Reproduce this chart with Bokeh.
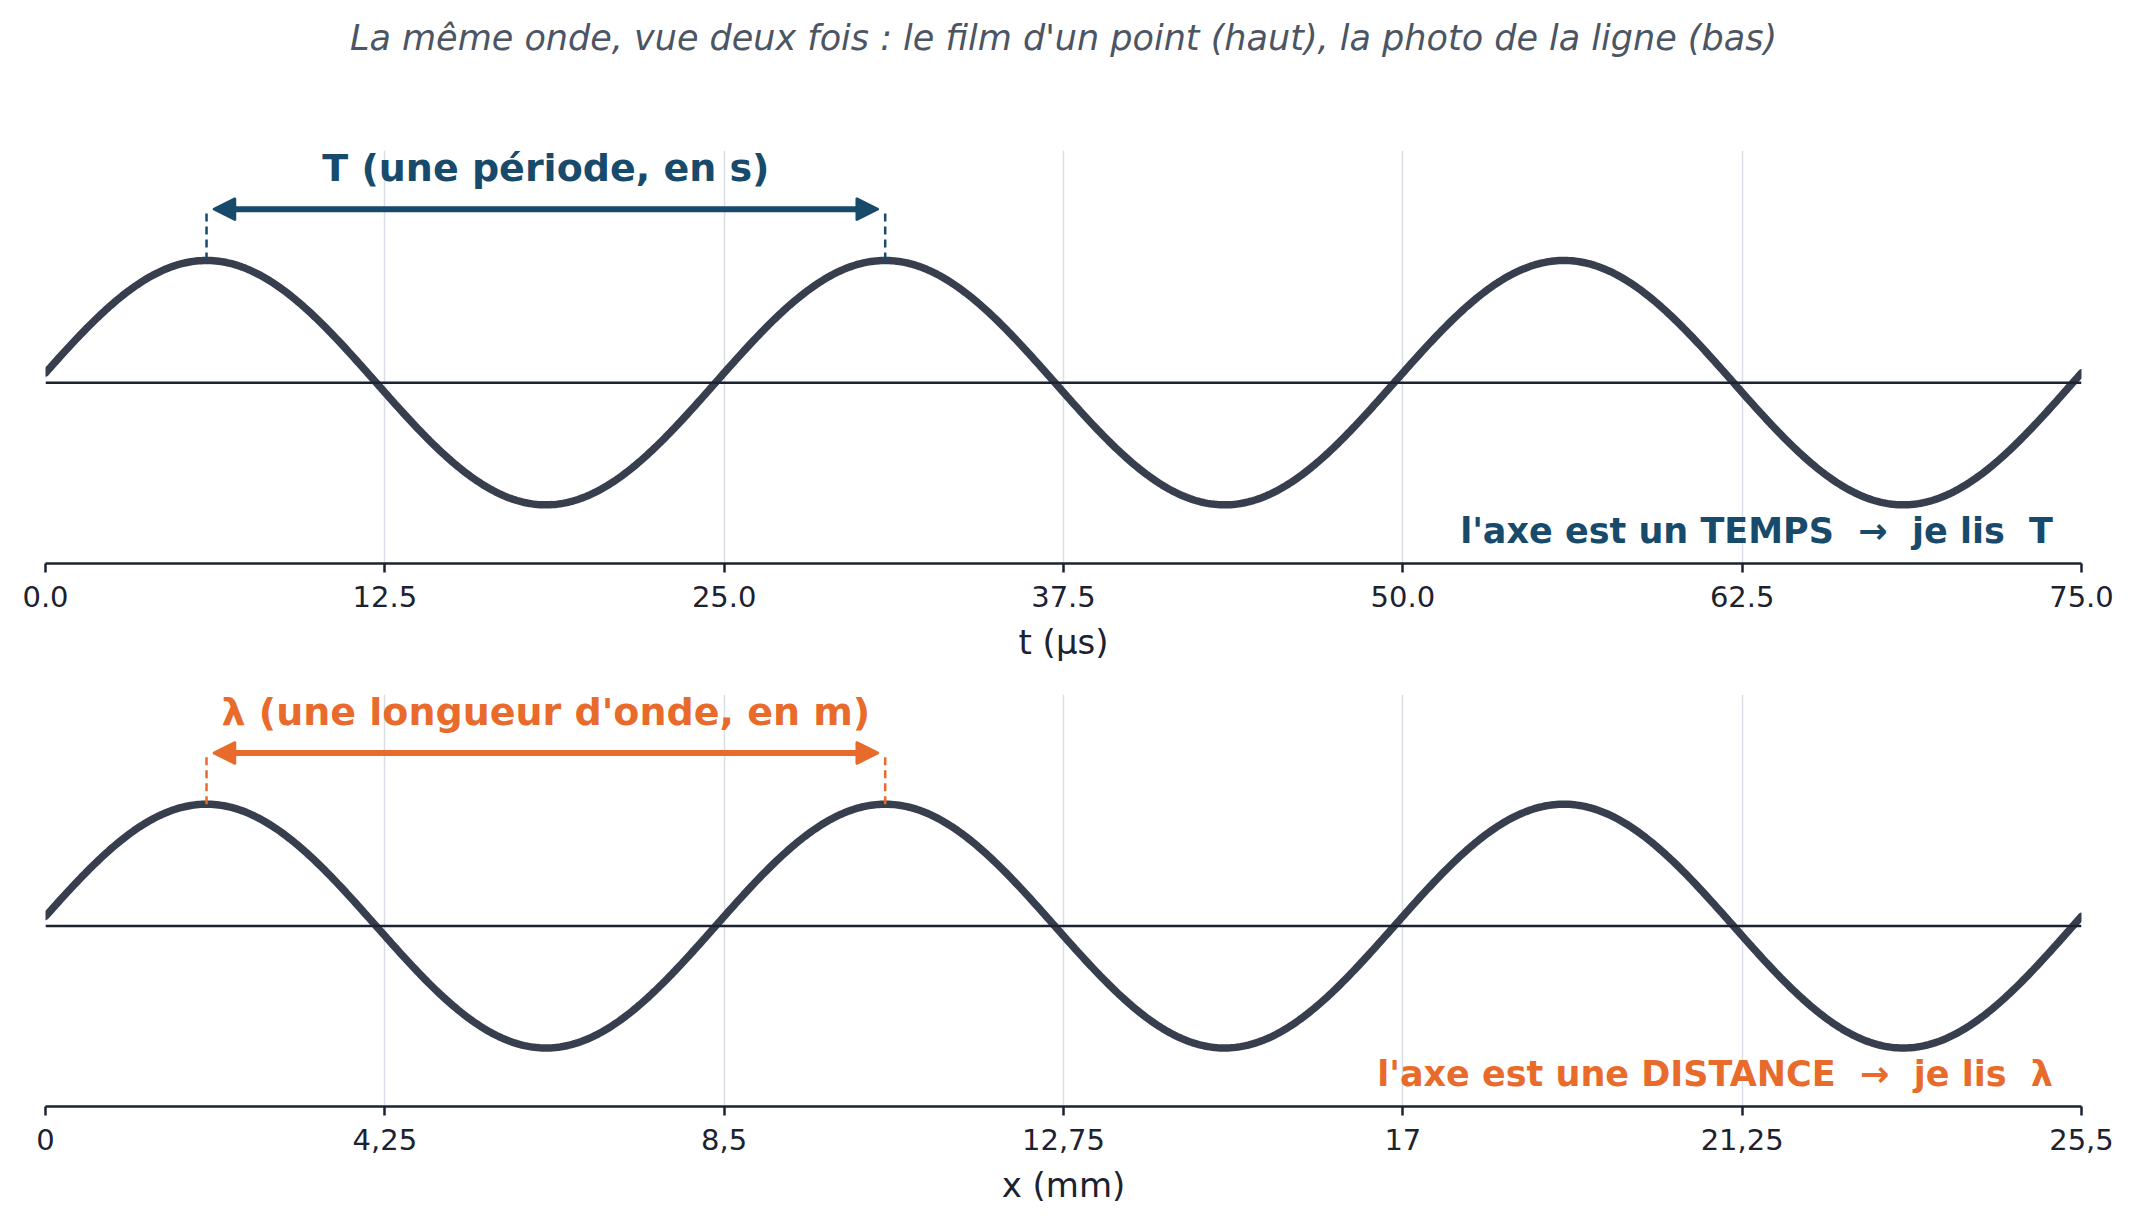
import numpy as np
from bokeh.plotting import figure
from bokeh.layouts import column
from bokeh.models import FixedTicker, Arrow, NormalHead, Range1d, Span
from bokeh.core.properties import value
from bokeh.embed import file_html
from bokeh.resources import INLINE

# --- données ---
titre = "La même onde, vue deux fois : le film d'un point (haut), la photo de la ligne (bas)"

periode_us = 25.0        # T
longueur_mm = 8.5        # lambda
amplitude = 1.0
phase = 0.08             # rad, la courbe part un peu au-dessus de 0

t_max = 75.0
x_max = 25.5
t_ticks = [0, 12.5, 25, 37.5, 50, 62.5, 75]
t_labels = ["0.0", "12.5", "25.0", "37.5", "50.0", "62.5", "75.0"]
x_ticks = [0, 4.25, 8.5, 12.75, 17, 21.25, 25.5]
x_labels = ["0", "4,25", "8,5", "12,75", "17", "21,25", "25,5"]

BLEU = "#184a6b"
ORANGE = "#e86b2c"
ONDE = "#373f4f"
FONT = "DejaVu Sans"
NB = "\u00a0"  # espace insécable (le SVG fusionne les doubles espaces)
W = 2115


def panneau(xmax, periode, ticks, labels, xlabel, couleur, txt_haut, txt_bas,
            height, top, bottom):
    p = figure(width=W, height=height, output_backend="svg", toolbar_location=None,
               x_range=Range1d(0, xmax), y_range=Range1d(-1.48, 1.9),
               min_border_left=45, min_border_right=34,
               min_border_top=top, min_border_bottom=bottom)
    p.outline_line_color = None
    p.yaxis.visible = False
    p.ygrid.visible = False
    tk = FixedTicker(ticks=ticks)
    p.xaxis.ticker = tk
    p.xgrid.ticker = tk
    p.xgrid.grid_line_color = "#d9dde6"
    p.xgrid.grid_line_width = 1.5
    p.xaxis.major_label_overrides = {t: l for t, l in zip(ticks, labels)}
    p.xaxis.axis_label = xlabel
    p.xaxis.axis_line_width = 2.5
    p.xaxis.axis_line_color = "#1c2230"
    p.xaxis.major_tick_line_width = 2.5
    p.xaxis.major_tick_line_color = "#1c2230"
    p.xaxis.major_tick_out = 9
    p.xaxis.major_tick_in = 0
    p.xaxis.minor_tick_line_color = None
    p.xaxis.major_label_standoff = 13
    p.xaxis.major_label_text_font = FONT
    p.xaxis.major_label_text_font_size = "29px"
    p.xaxis.major_label_text_color = "#1c2230"
    p.xaxis.axis_label_text_font = FONT
    p.xaxis.axis_label_text_font_size = "34px"
    p.xaxis.axis_label_text_font_style = "normal"
    p.xaxis.axis_label_text_color = "#1c2230"
    p.xaxis.axis_label_standoff = 12

    # axe du zéro
    p.add_layout(Span(location=0, dimension="width", line_color="#1c2230", line_width=2.5))

    # l'onde
    xs = np.linspace(0, xmax, 800)
    ys = amplitude * np.sin(2 * np.pi * xs / periode + phase)
    p.line(xs, ys, line_color=ONDE, line_width=7.5, line_cap="round")

    # une période / une longueur d'onde entre deux crêtes
    c1 = (np.pi / 2 - phase) / (2 * np.pi) * periode
    c2 = c1 + periode
    y_fl = 1.42
    p.segment(x0=[c1, c2], y0=[amplitude, amplitude], x1=[c1, c2], y1=[y_fl, y_fl],
              line_color=couleur, line_width=2.5, line_dash="8 5")
    dx = xmax * 0.0033
    tete = dict(size=22, fill_color=couleur, line_color=couleur, line_width=2)
    p.add_layout(Arrow(start=NormalHead(**tete), end=NormalHead(**tete),
                       x_start=c1 + dx, y_start=y_fl, x_end=c2 - dx, y_end=y_fl,
                       line_color=couleur, line_width=6))
    p.text(x=[(c1 + c2) / 2], y=[1.76], text=[txt_haut], text_font=value(FONT),
           text_font_style="bold", text_font_size="38px", text_color=couleur,
           text_align="center", text_baseline="middle")
    p.text(x=[xmax * 0.986], y=[-1.21], text=[txt_bas], text_font=value(FONT),
           text_font_style="bold", text_font_size="35px", text_color=couleur,
           text_align="right", text_baseline="middle")
    return p


# bandeau de titre (figure vide, seul le titre est dessiné)
p0 = figure(width=W, height=69, output_backend="svg", toolbar_location=None,
            title=titre, min_border_left=45, min_border_right=34,
            min_border_top=59, min_border_bottom=0)
p0.axis.visible = False
p0.grid.visible = False
p0.outline_line_color = None
p0.title.align = "center"
p0.title.standoff = 4
p0.title.text_font = FONT
p0.title.text_font_size = "35px"
p0.title.text_font_style = "italic"
p0.title.text_color = "#4b5563"

p1 = panneau(t_max, periode_us, t_ticks, t_labels, "t (µs)", BLEU,
             "T (une période, en s)",
             "l'axe est un TEMPS " + NB + "→" + NB + " je lis " + NB + "T",
             height=609, top=81, bottom=115)

p2 = panneau(x_max, longueur_mm, x_ticks, x_labels, "x (mm)", ORANGE,
             "λ (une longueur d'onde, en m)",
             "l'axe est une DISTANCE " + NB + "→" + NB + " je lis " + NB + "λ",
             height=537, top=16, bottom=109)

page = column(p0, p1, p2, spacing=0)
open("out.html", "w").write(file_html(page, INLINE))
